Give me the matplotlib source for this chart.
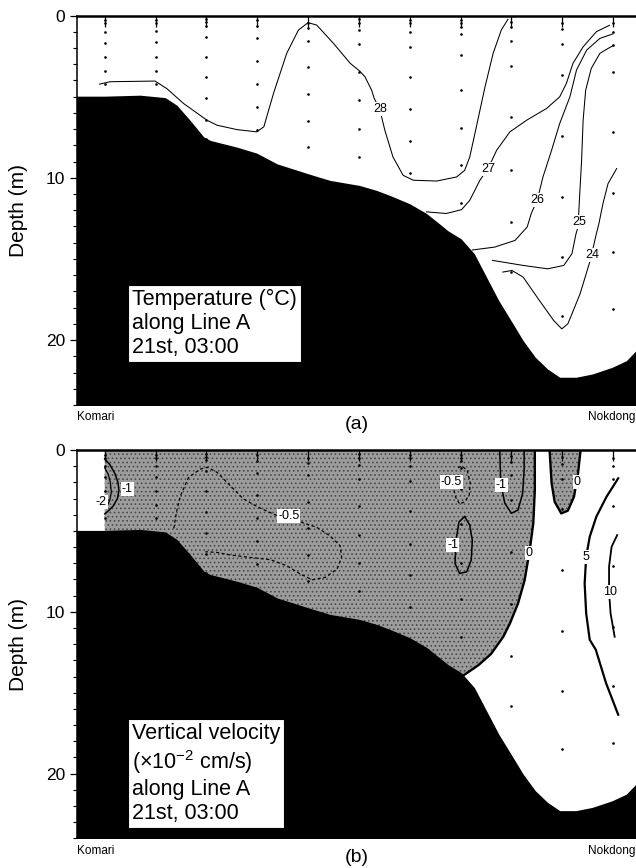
import matplotlib
matplotlib.use('Agg')
import matplotlib.pyplot as plt
from matplotlib.ticker import MultipleLocator

plt.rcParams['font.family'] = ['Liberation Sans', 'DejaVu Sans']
plt.rcParams['mathtext.fontset'] = 'custom'
plt.rcParams['mathtext.rm'] = 'Liberation Sans'
plt.rcParams['mathtext.default'] = 'regular'
plt.rcParams['hatch.linewidth'] = 0.7

# station positions along Line A (Komari -> Nokdong)
stations = [1, 2, 3, 4, 5, 6, 7, 8, 9, 10, 11]

# sample depths (m) at each station
st_depths = [
    [0.28, 0.48, 1.0, 1.68, 2.54, 3.43, 4.23],
    [0.28, 0.48, 0.96, 1.66, 2.54, 3.43, 4.2],
    [0.22, 0.43, 0.63, 1.31, 2.54, 3.82, 5.11, 6.41, 7.58],
    [0.28, 0.65, 1.41, 2.79, 4.23, 5.63, 7.07],
    [0.48, 0.79, 1.56, 3.2, 4.85, 6.5, 8.1],
    [0.22, 0.48, 0.9, 1.78, 3.47, 5.23, 6.98, 8.71],
    [0.28, 0.48, 1.0, 1.93, 3.78, 5.79, 7.73, 9.7],
    [0.28, 0.48, 0.69, 1.14, 2.44, 4.6, 6.96, 9.23, 11.56],
    [0.38, 0.73, 1.56, 3.12, 6.28, 9.5, 12.73, 15.8],
    [0.44, 0.85, 1.78, 3.67, 7.44, 11.19, 14.9, 18.5],
    [0.48, 1.0, 1.82, 3.47, 7.17, 10.94, 14.6, 18.1],
]

# bottom profile
bot_x = [0.3, 1.0, 1.70, 2.19, 2.42, 2.68, 2.95, 3.08, 3.60, 3.99, 4.39, 5.0, 5.43,
         6.01, 6.35, 6.61, 7.0, 7.33, 7.59, 7.75, 8.01, 8.27, 8.51, 8.75, 8.99,
         9.23, 9.47, 9.71, 9.95, 10.27, 10.59, 10.98, 11.26, 11.45, 11.7]
bot_d = [4.97, 4.97, 4.91, 5.06, 5.53, 6.46, 7.49, 7.7, 8.11, 8.48, 9.14, 9.75, 10.16,
         10.47, 10.78, 11.09, 11.6, 12.2, 12.85, 13.26, 13.76, 14.68, 16.12, 17.56, 18.79,
         20.03, 21.06, 21.78, 22.29, 22.29, 22.09, 21.68, 21.27, 20.65, 20.2]

# temperature isotherms (deg C)
t28_x = [0.90, 1.11, 1.99, 2.22, 2.55, 3.01, 3.21, 3.60, 3.99, 4.13, 4.32, 4.58, 4.81,
         5.0, 5.17, 5.5, 5.83, 6.01, 6.12, 6.25, 6.30, 6.41, 6.51, 6.67, 6.87, 7.07,
         7.53, 7.92, 8.08, 8.18, 8.31, 8.48, 8.64, 8.80, 8.93]
t28_d = [4.23, 4.08, 4.04, 4.5, 5.42, 6.45, 6.76, 7.03, 7.17, 6.86, 4.80, 2.33, 0.9,
         0.44, 0.59, 1.72, 2.95, 3.41, 3.78, 4.6, 5.1, 5.79, 7.07, 8.72, 9.85, 10.15,
         10.2, 9.95, 9.54, 8.72, 6.86, 4.4, 2.33, 0.9, 0.24]
t27_x = [7.33, 7.72, 8.02, 8.18, 8.38, 8.54, 8.71, 8.97, 9.30, 9.69, 9.95, 10.08,
         10.21, 10.41, 10.67, 10.93]
t27_d = [12.1, 12.2, 11.96, 11.39, 10.15, 9.43, 8.3, 7.17, 6.45, 5.73, 5.01, 4.19,
         2.95, 1.93, 1.0, 0.6]
t26_x = [8.23, 8.67, 9.07, 9.31, 9.39, 9.51, 9.62, 9.79, 9.95, 10.15, 10.28, 10.48,
         10.74, 10.99]
t26_d = [14.45, 14.27, 13.86, 13.03, 12.2, 11.35, 9.95, 8.3, 6.65, 5.01, 3.36, 2.13,
         1.41, 1.14]
t25_x = [8.63, 9.23, 9.71, 10.03, 10.19, 10.27, 10.31, 10.34, 10.38, 10.41, 10.46,
         10.57, 10.74, 10.90, 10.99]
t25_d = [15.09, 15.4, 15.61, 15.4, 14.68, 13.45, 13.04, 11.19, 8.92, 6.45, 4.6, 3.26,
         2.33, 2.03, 1.88]
t24_x = [8.83, 9.01, 9.23, 9.55, 9.83, 9.99, 10.11, 10.35, 10.55, 10.67, 10.72, 10.80,
         10.90, 11.07]
t24_d = [15.81, 15.71, 16.12, 17.56, 18.79, 19.31, 19.0, 17.15, 15.09, 13.45, 12.83,
         11.59, 10.36, 9.43]
t_labels = ['28', '27', '26', '25', '24']
t_lab_x = [6.41, 8.54, 9.51, 10.33, 10.59]
t_lab_d = [5.79, 9.43, 11.35, 12.7, 14.78]

# vertical velocity contours (x10^-2 cm/s)
w0_x = [9.46, 9.46, 9.43, 9.36, 9.26, 9.13, 8.97, 8.84, 8.6, 8.35, 8.07]
w0_d = [0.0, 2.47, 4.53, 6.18, 8.04, 9.48, 10.72, 11.54, 12.6, 13.3, 13.9]
w0b_x = [9.75, 9.79, 9.85, 9.98, 10.11, 10.23, 10.31, 10.36]
w0b_d = [0.0, 2.06, 3.20, 3.92, 3.75, 2.89, 1.44, 0.0]
wm1a_x = [1.0, 1.1, 1.2, 1.26, 1.28, 1.25, 1.17, 1.06, 1.0]
wm1a_d = [0.55, 0.9, 1.45, 2.0, 2.5, 3.0, 3.45, 3.8, 3.95]
wm2_x = [1.0, 1.07, 1.11, 1.13, 1.1, 1.05, 1.0]
wm2_d = [1.1, 1.5, 2.0, 2.6, 3.1, 3.45, 3.6]
wm05a_x = [2.36, 2.41, 2.49, 2.65, 2.88, 3.02, 3.21, 3.47, 3.73, 4.03, 4.39, 4.78, 5.17,
           5.43, 5.63, 5.66, 5.57, 5.34, 5.08, 4.85, 4.58, 4.26, 3.86, 3.47, 3.21, 2.98]
wm05a_d = [4.84, 3.86, 2.83, 1.69, 1.18, 1.07, 1.38, 2.21, 3.03, 3.55, 4.06, 4.37, 4.78,
           5.30, 5.92, 6.64, 7.36, 7.87, 8.02, 7.67, 7.15, 6.78, 6.64, 6.49, 6.33, 6.29]
wm05b_x = [7.95, 8.02, 8.13, 8.19, 8.17, 8.08, 7.98, 7.9, 7.85]
wm05b_d = [1.1, 0.99, 1.24, 2.06, 2.78, 3.2, 3.34, 2.9, 2.2]
wm1b_x = [8.08, 8.18, 8.23, 8.21, 8.12, 7.98, 7.89, 7.91, 7.97, 8.08]
wm1b_d = [4.12, 4.64, 5.57, 6.80, 7.53, 7.63, 7.01, 5.57, 4.43, 4.12]
wm1c_x = [8.77, 8.79, 8.87, 9.0, 9.13, 9.22, 9.25, 9.25]
wm1c_d = [0.0, 2.06, 3.30, 3.91, 3.71, 2.68, 1.24, 0.0]
w5_x = [11.10, 10.87, 10.67, 10.54, 10.47, 10.44, 10.47, 10.54, 10.66, 10.86, 11.10]
w5_d = [1.75, 2.89, 4.12, 5.36, 6.60, 8.25, 10.1, 11.73, 12.35, 14.4, 16.36]
w10_x = [11.08, 10.97, 10.92, 10.92, 10.95, 11.03]
w10_d = [5.26, 5.98, 7.21, 8.76, 10.1, 11.54]
w_labels = ['-2', '-1', '-0.5', '-0.5', '-1', '-1', '0', '0', '5', '10']
w_lab_x = [0.93, 1.44, 4.62, 7.82, 7.85, 8.80, 9.35, 10.29, 10.47, 10.93]
w_lab_d = [3.2, 2.4, 4.06, 2.0, 5.87, 2.16, 6.39, 1.96, 6.6, 8.8]

W, H = 636, 868
fig = plt.figure(figsize=(W / 100, H / 100), dpi=100)
ax1 = fig.add_axes([77 / W, 1 - 405 / H, 1 - 77 / W, 389.5 / H])
ax2 = fig.add_axes([77 / W, 1 - 838.3 / H, 1 - 77 / W, 388.3 / H])


def frame(ax, tag, box_text):
    ax.set_xlim(0.455, 11.45)
    ax.set_ylim(24, 0)
    ax.fill_between(bot_x, bot_d, 30, color='black', lw=0, zorder=2)
    for s, dd in zip(stations, st_depths):
        ax.plot([s] * len(dd), dd, 'o', color='black', ms=1.9, mew=0, zorder=3)
    ax.set_xticks(stations)
    ax.tick_params(axis='x', bottom=False, top=True, labelbottom=False,
                   direction='in', length=8, width=0.9)
    ax.yaxis.set_major_locator(MultipleLocator(10))
    ax.yaxis.set_minor_locator(MultipleLocator(1))
    ax.tick_params(axis='y', which='major', direction='out', length=5, width=0.9,
                   labelsize=12.5, pad=3.5)
    ax.tick_params(axis='y', which='minor', direction='out', length=3, width=0.8)
    ax.set_ylabel('Depth (m)', fontsize=15)
    ax.yaxis.set_label_coords(-0.088, 0.5)
    ax.spines['right'].set_visible(False)
    for sp in ['left', 'bottom']:
        ax.spines[sp].set_linewidth(1.1)
    ax.spines['top'].set_linewidth(1.8)
    ax.text(0.0, -0.032, 'Komari', transform=ax.transAxes, ha='left', va='center',
            fontsize=8.5)
    ax.text(0.998, -0.032, 'Nokdong', transform=ax.transAxes, ha='right', va='center',
            fontsize=8.5)
    ax.text(0.5, -0.049, tag, transform=ax.transAxes, ha='center', va='center',
            fontsize=14)
    ax.text(0.098, 0.298, box_text, transform=ax.transAxes, ha='left', va='top',
            fontsize=15.5, linespacing=1.2, zorder=6,
            bbox=dict(boxstyle='square,pad=0.18', fc='white', ec='black', lw=0.8))


def label(ax, txt, x, d, fs=9):
    ax.text(x, d, txt, ha='center', va='center', fontsize=fs, zorder=5,
            bbox=dict(boxstyle='square,pad=0.08', fc='white', ec='none'))


# (a) temperature
frame(ax1, '(a)', 'Temperature (\u00b0C)\nalong Line A\n21st, 03:00')
for xs, ds in [(t28_x, t28_d), (t27_x, t27_d), (t26_x, t26_d), (t25_x, t25_d),
               (t24_x, t24_d)]:
    ax1.plot(xs, ds, color='black', lw=0.75, zorder=3)
for txt, x, d in zip(t_labels, t_lab_x, t_lab_d):
    label(ax1, txt, x, d)

# (b) vertical velocity
frame(ax2, '(b)', 'Vertical velocity\n(\u00d710$^{-2}$ cm/s)\nalong Line A\n21st, 03:00')
neg_x = [1.0] + w0_x + [8.07, 1.0]
neg_d = [0.0] + w0_d + [30, 30]
ax2.fill(neg_x, neg_d, fc='#9c9c9c', ec='#4a4a4a', lw=0, hatch='....', zorder=1)
ax2.fill(w0b_x, w0b_d, fc='#9c9c9c', ec='#4a4a4a', lw=0, hatch='....', zorder=1)
ax2.plot(w0_x, w0_d, color='black', lw=1.7, zorder=3)
ax2.plot(w0b_x, w0b_d, color='black', lw=1.7, zorder=3)
ax2.plot(w5_x, w5_d, color='black', lw=1.6, zorder=3)
ax2.plot(w10_x, w10_d, color='black', lw=1.3, zorder=3)
ax2.plot(wm1a_x, wm1a_d, color='black', lw=1.1, zorder=3)
ax2.plot(wm2_x, wm2_d, color='black', lw=0.9, zorder=3)
ax2.plot(wm1b_x, wm1b_d, color='black', lw=1.1, zorder=3)
ax2.plot(wm1c_x, wm1c_d, color='black', lw=1.1, zorder=3)
ax2.plot(wm05a_x, wm05a_d, color='black', lw=0.9, ls=(0, (2.5, 2)), zorder=3)
ax2.plot(wm05b_x, wm05b_d, color='black', lw=0.9, ls=(0, (2.5, 2)), zorder=3)
for txt, x, d in zip(w_labels, w_lab_x, w_lab_d):
    label(ax2, txt, x, d)

fig.savefig('out.png', dpi=100)
